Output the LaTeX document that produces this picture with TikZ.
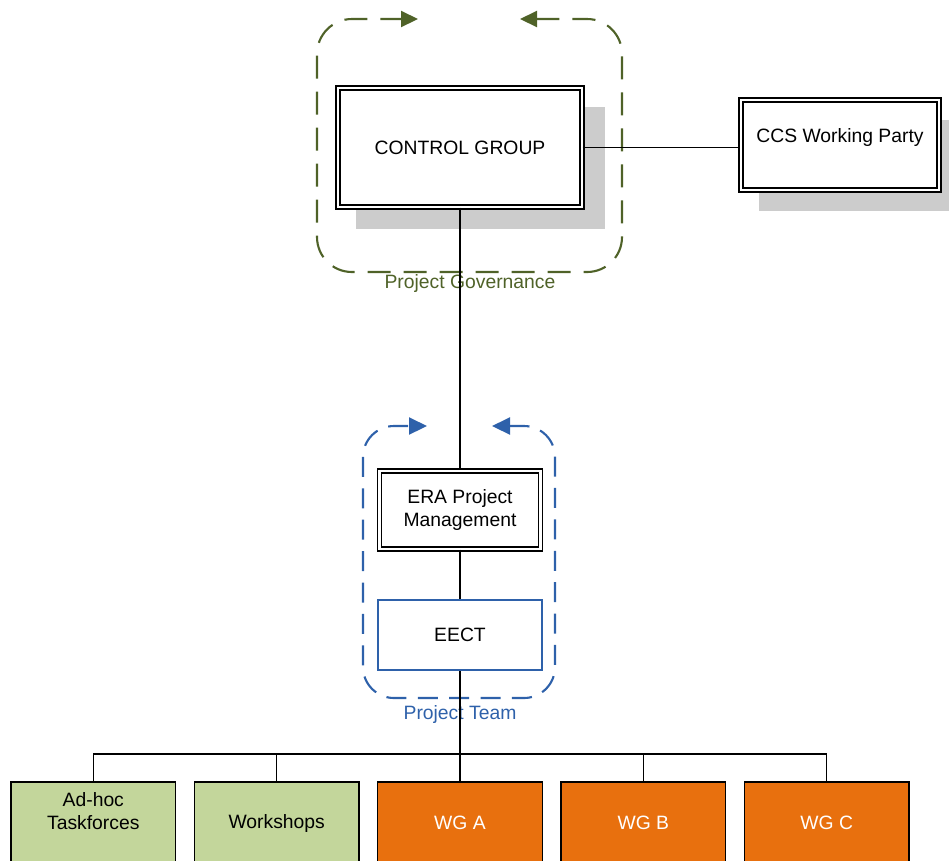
\documentclass[tikz,border=0pt]{standalone}
\usepackage{fontspec}
\setmainfont{Liberation Sans}
\usepackage{xcolor}
\usepackage{tikz}
\usetikzlibrary{arrows.meta, shadows}

\definecolor{govgreen}{RGB}{79,98,40}
\definecolor{teamblue}{RGB}{46,97,170}
\definecolor{taskgreen}{RGB}{195,214,155}
\definecolor{wgorange}{RGB}{232,112,14}

\begin{document}
\begin{tikzpicture}[x=0.02cm, y=-0.02cm,
  every node/.style={font=\fontsize{11}{13.6}\selectfont, align=center},
  dbox/.style={draw, double, double distance=1.6pt, line width=0.7pt, fill=white},
  shade/.style={drop shadow={shadow xshift=0.4cm, shadow yshift=-0.4cm,
      shadow scale=1.02, fill=black!20, opacity=1}},
  lowbox/.style={draw, line width=0.8pt, minimum width=3.3cm, minimum height=1.64cm},
  link/.style={line width=0.7pt},
  govframe/.style={draw=govgreen, line width=1.2pt, dash pattern=on 0.46cm off 0.26cm,
      rounded corners=0.7cm,
      {Triangle[length=0.34cm,width=0.32cm]}-{Triangle[length=0.34cm,width=0.32cm]}},
  teamframe/.style={draw=teamblue, line width=1.2pt, dash pattern=on 0.4cm off 0.228cm,
      rounded corners=0.62cm,
      {Triangle[length=0.36cm,width=0.34cm]}-{Triangle[length=0.36cm,width=0.34cm]}}]
  \useasboundingbox (0,0) rectangle (949,860);
  \clip (0,0) rectangle (949,860);

  % molduras tracejadas
  \draw[govframe] (520,19) -| (622,272) -| (317,19) -- (418,19);
  \draw[teamframe] (492,426) -| (555,698) -| (363,426) -- (427,426);
  \node[text=govgreen] (govlabel) at (470,283) {Project Governance};
  \node[text=teamblue] (teamlabel) at (460,714) {Project Team};

  % governo do projeto
  \node[dbox, shade, minimum width=4.88cm, minimum height=2.38cm] (cg) at (460,147.5)
    {CONTROL GROUP};
  \node[dbox, shade, minimum width=3.96cm, minimum height=1.8cm,
    text height=0.28cm, text depth=0.4cm] (ccs) at (840,145) {CCS Working Party};

  % equipa do projeto
  \node[dbox, minimum width=3.22cm, minimum height=1.56cm] (era) at (460,510)
    {ERA Project\\Management};
  \node[draw=teamblue, line width=1.2pt, minimum width=3.28cm, minimum height=1.4cm]
    (eect) at (460,635) {EECT};

  % grupos de trabalho
  \node[lowbox, fill=taskgreen, text depth=0.48cm] (adhoc)
    at (93.3,823) {Ad-hoc\\Taskforces};
  \node[lowbox, fill=taskgreen] (ws) at (276.7,823) {Workshops};
  \node[lowbox, fill=wgorange, text=white] (wga) at (460,823) {WG A};
  \node[lowbox, fill=wgorange, text=white] (wgb) at (643.3,823) {WG B};
  \node[lowbox, fill=wgorange, text=white] (wgc) at (826.7,823) {WG C};

  % ligacoes
  \coordinate (bus) at (460,754);
  \draw[link] (cg.east) -- (cg.east -| ccs.west);
  \draw[link] (cg.south) -- (era.north);
  \draw[link] (era.south) -- (eect.north);
  \draw[link] (eect.south) -- (wga.north);
  \draw[link] (adhoc.north) |- (bus) -| (wgc.north);
  \draw[link] (ws.north) -- (ws.north |- bus);
  \draw[link] (wgb.north) -- (wgb.north |- bus);
\end{tikzpicture}
\end{document}
